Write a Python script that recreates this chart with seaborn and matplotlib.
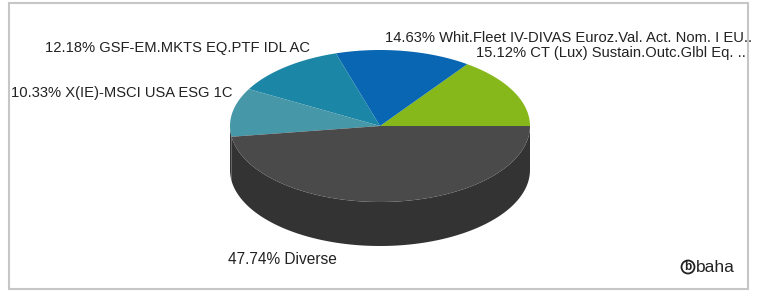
import numpy as np
import matplotlib.pyplot as plt
import seaborn as sns
from matplotlib.patches import Rectangle, Circle

sns.set_theme(style="white")
plt.rcParams["font.family"] = ["Liberation Sans", "DejaVu Sans"]

# ---- data ----
labels = ["CT (Lux) Sustain.Outc.Glbl Eq. ..",
          "Whit.Fleet IV-DIVAS Euroz.Val. Act. Nom. I EU..",
          "GSF-EM.MKTS EQ.PTF IDL AC",
          "X(IE)-MSCI USA ESG 1C",
          "Diverse"]
shares = [15.12, 14.63, 12.18, 10.33, 47.74]
top_colors = ["#86b81b", "#0866b2", "#1c86a6", "#4697a8", "#4a4a4a"]
# the left sliver of the light teal slice reads as dark in the original
side_colors = ["#5e8313", "#05477c", "#145e74", "#353535", "#333333"]

# ---- pie geometry (pixel coordinates) ----
W, H = 758, 293
cx, cy = 380, 126
rx, ry = 150, 76
depth = 44

fig = plt.figure(figsize=(W / 100, H / 100), dpi=100)
ax = fig.add_axes([0, 0, 1, 1])
ax.set_xlim(0, W)
ax.set_ylim(H, 0)
ax.axis("off")

# frame
ax.add_patch(Rectangle((9, 3), 739, 286, fill=False, edgecolor="#c6c6c6", lw=1.5))

fracs = np.array(shares) / sum(shares)
bounds = np.concatenate([[0], np.cumsum(fracs) * 360])


def arc(a0, a1, n=120):
    t = np.radians(np.linspace(a0, a1, n))
    return cx + rx * np.cos(t), cy - ry * np.sin(t)


# side walls (only the front half, 180..360 deg, is visible)
for i in range(len(shares)):
    a0, a1 = max(bounds[i], 180), min(bounds[i + 1], 360)
    if a1 <= a0:
        continue
    x, y = arc(a0, a1)
    ax.fill(np.concatenate([x, x[::-1]]), np.concatenate([y, y[::-1] + depth]),
            color=side_colors[i], lw=0)

# top faces
for i in range(len(shares)):
    x, y = arc(bounds[i], bounds[i + 1])
    ax.fill(np.concatenate([[cx], x]), np.concatenate([[cy], y]),
            color=top_colors[i], lw=0)

# ---- labels ----
fs = 10.6
tc = "#222222"
ax.text(385, 38, f"{shares[1]:.2f}% {labels[1]}", fontsize=fs, color=tc, va="center", ha="left")
ax.text(746, 53, f"{shares[0]:.2f}% {labels[0]}", fontsize=fs, color=tc, va="center", ha="right")
ax.text(45, 48, f"{shares[2]:.2f}% {labels[2]}", fontsize=fs, color=tc, va="center", ha="left")
ax.text(11, 93, f"{shares[3]:.2f}% {labels[3]}", fontsize=fs, color=tc, va="center", ha="left")
ax.text(228, 259, f"{shares[4]:.2f}% {labels[4]}", fontsize=11.2, color=tc, va="center", ha="left")

# baha logo
ax.add_patch(Circle((688, 267), 6.5, fill=False, edgecolor="#222222", lw=1.3))
ax.text(688, 267.5, "b", fontsize=8.5, fontweight="bold", color="#222222", ha="center", va="center")
ax.text(696, 267, "baha", fontsize=12.5, color="#222222", ha="left", va="center")

fig.savefig("out.png", dpi=100)
